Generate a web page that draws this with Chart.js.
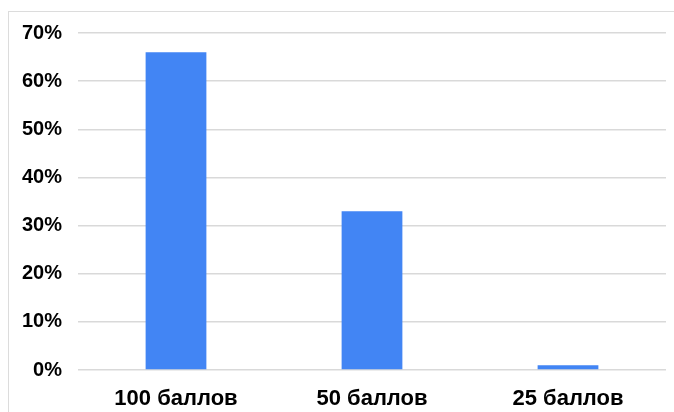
<!DOCTYPE html>
<html>
<head>
<meta charset="utf-8">
<script src="https://cdn.jsdelivr.net/npm/chart.js@4"></script>
<style>
  html, body { margin: 0; padding: 0; background: #fff; }
  #cadre {
    position: absolute; left: 8px; top: 11px; width: 670px; height: 410px;
    border-left: 1px solid #dcdcdc; border-top: 1px solid #dcdcdc;
  }
  #boite { position: absolute; left: 0; top: 0; width: 674px; height: 412px; }
</style>
</head>
<body>
<div id="cadre"></div>
<div id="boite"><canvas id="baresChart"></canvas></div>
<script>
'use strict';
// categories et valeurs (en %)
const categories = ['100 баллов', '50 баллов', '25 баллов'];
const pourcentages = [66, 33, 1];
const ticksY = [0, 10, 20, 30, 40, 50, 60, 70];

const ctx = document.getElementById('baresChart').getContext('2d');

const baresChart = new Chart(ctx, {
  type: 'bar',
  data: {
    labels: categories,
    datasets: [{
      data: pourcentages,
      backgroundColor: '#4285f4',
      borderWidth: 0,
      categoryPercentage: 1,
      barPercentage: 0.31
    }]
  },
  options: {
    responsive: true,
    maintainAspectRatio: false,
    animation: false,
    layout: { padding: { left: 0, right: 8, top: 33, bottom: 0 } },
    plugins: { legend: { display: false }, tooltip: { enabled: false } },
    scales: {
      x: {
        grid: { display: false },
        border: { display: false },
        ticks: {
          color: '#000',
          padding: 8,
          font: { family: 'Liberation Sans, Arial', size: 22, weight: 'bold' }
        },
        afterFit: scale => { scale.height = 42; }
      },
      y: {
        min: 0,
        max: 70,
        afterBuildTicks: scale => { scale.ticks = ticksY.map(v => ({ value: v })); },
        grid: { color: '#d9d9d9', lineWidth: 1.5, drawTicks: false },
        border: { display: false },
        ticks: {
          color: '#000',
          padding: 16,
          callback: v => v + '%',
          font: { family: 'Liberation Sans, Arial', size: 20, weight: 'bold' }
        },
        afterFit: scale => { scale.width = 78; }
      }
    }
  }
});
</script>
</body>
</html>
